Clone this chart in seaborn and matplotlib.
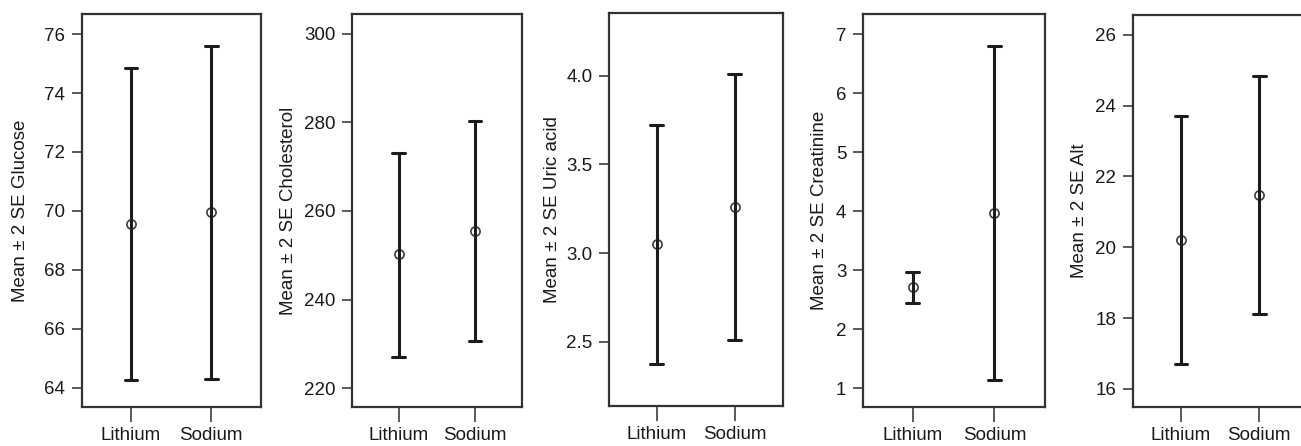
import matplotlib
matplotlib.use("Agg")
import matplotlib.pyplot as plt
import numpy as np
import pandas as pd
import seaborn as sns

sns.set_style("ticks")
plt.rcParams['font.family'] = ['Liberation Sans', 'DejaVu Sans']

# Data: mean and the +/- 2 SE bounds per group
groups = ['Lithium', 'Sodium']
measures = ['Glucose', 'Cholesterol', 'Uric acid', 'Creatinine', 'Alt']
means = {
    'Glucose': [69.55, 69.95],
    'Cholesterol': [250.2, 255.4],
    'Uric acid': [3.05, 3.26],
    'Creatinine': [2.71, 3.97],
    'Alt': [20.2, 21.48],
}
lower = {
    'Glucose': [64.25, 64.3],
    'Cholesterol': [227.1, 230.7],
    'Uric acid': [2.375, 2.51],
    'Creatinine': [2.44, 1.13],
    'Alt': [16.71, 18.13],
}
upper = {
    'Glucose': [74.85, 75.6],
    'Cholesterol': [273.0, 280.3],
    'Uric acid': [3.72, 4.01],
    'Creatinine': [2.97, 6.8],
    'Alt': [23.72, 24.85],
}
yticks = {
    'Glucose': [64, 66, 68, 70, 72, 74, 76],
    'Cholesterol': [220, 240, 260, 280, 300],
    'Uric acid': [2.5, 3.0, 3.5, 4.0],
    'Creatinine': [1, 2, 3, 4, 5, 6, 7],
    'Alt': [16, 18, 20, 22, 24, 26],
}
ylims = {
    'Glucose': (63.35, 76.68),
    'Cholesterol': (215.8, 304.4),
    'Uric acid': (2.137, 4.354),
    'Creatinine': (0.68, 7.34),
    'Alt': (15.49, 26.56),
}

# axes boxes in pixels (left, top, right, bottom) measured on the 1301x446 image
boxes = [
    (82, 14, 261, 407),
    (352, 14, 522, 407),
    (609, 13, 783, 406),
    (863, 14, 1045, 407),
    (1133, 15, 1308, 407),
]
labelpads = [11, 5, 4, 6, 5]

W, H = 1301, 446
fig = plt.figure(figsize=(W / 100, H / 100), dpi=100)

for name, (l, t, r, b), lp in zip(measures, boxes, labelpads):
    ax = fig.add_axes([l / W, 1 - b / H, (r - l) / W, (b - t) / H])
    # three values per group: median gives the mean, full range gives the bounds
    df = pd.DataFrame({
        'group': np.repeat(groups, 3),
        'value': np.ravel([[lo, m, hi] for lo, m, hi in
                           zip(lower[name], means[name], upper[name])]),
    })
    sns.pointplot(data=df, x='group', y='value', order=groups,
                  estimator=np.median, errorbar=('pi', 100),
                  color='#1c1c1c', linestyle='none', capsize=0.16,
                  err_kws={'linewidth': 2.2, 'color': '#1c1c1c'},
                  marker='o', markersize=6.6, markerfacecolor='none',
                  markeredgecolor='#3a3a3a', markeredgewidth=1.2, ax=ax)
    ax.set_xlim(-0.61, 1.62)
    ax.set_ylim(*ylims[name])
    ax.set_yticks(yticks[name])
    if name == 'Uric acid':
        ax.set_yticklabels([f'{v:.1f}' for v in yticks[name]])
    ax.set_xlabel('')
    ax.set_ylabel(f'Mean \u00b1 2 SE {name}', fontsize=13.5, color='#1a1a1a',
                  labelpad=lp)
    ax.tick_params(axis='y', length=7.5, width=1.4, color='#5a5a5a',
                   labelsize=13.5, labelcolor='#1a1a1a', pad=4.5)
    ax.tick_params(axis='x', length=10.5, width=1.4, color='#5a5a5a',
                   labelsize=13.5, labelcolor='#1a1a1a', pad=4)
    for sp in ax.spines.values():
        sp.set_visible(True)
        sp.set_color('#333333')
        sp.set_linewidth(1.6)

fig.savefig('out.png', dpi=100)
